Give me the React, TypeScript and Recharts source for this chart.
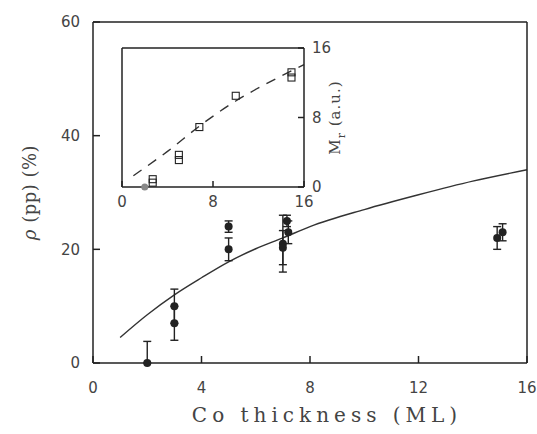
import React from 'react';
import { ComposedChart, Scatter, Line, XAxis, YAxis, ErrorBar, Label } from 'recharts';

// main panel: measured points
const mainX = [2, 3, 3, 5, 5, 7, 7, 7.15, 7.2, 14.9, 15.1];
const mainY = [0, 10, 7, 24, 20, 21, 20.3, 25, 23, 22, 23];
const mainErr: (number | number[])[] = [[0, 3.8], 3, 3, 1, 2, 5, 3, 1, 2, 2, 1.5];

// main panel: fitted curve
const fitX = [1, 2, 3, 4, 5, 6, 7, 8, 10, 12, 14, 16];
const fitY = [4.5, 8.5, 12, 15, 17.8, 20.1, 22, 24, 27, 29.6, 32, 34];

// inset: Mr squares
const insetX = [2.7, 2.7, 5, 5, 6.8, 10, 14.9, 14.9];
const insetY = [0.5, 0.9, 3.1, 3.7, 6.9, 10.5, 12.6, 13.2];
// inset: filled dot
const dotX = [2];
const dotY = [0];
// inset: dashed curve
const dashX = [1, 4, 7, 10, 13, 16];
const dashY = [1.3, 4.1, 7.2, 9.9, 12.1, 14.1];

const mainTicksX = [0, 4, 8, 12, 16];
const mainTicksY = [0, 20, 40, 60];
const insetTicks = [0, 8, 16];

const mainPts = mainX.map((x, i) => ({ x, y: mainY[i], err: mainErr[i] }));
const fitPts = fitX.map((x, i) => ({ x, y: fitY[i] }));
const insetPts = insetX.map((x, i) => ({ x, y: insetY[i] }));
const dotPts = dotX.map((x, i) => ({ x, y: dotY[i] }));
const dashPts = dashX.map((x, i) => ({ x, y: dashY[i] }));

const INK = '#222';
const TXT = '#444';
const tickStyle = { fontFamily: 'DejaVu Sans', fontSize: 15, fill: TXT };

const Square = (p: any) => (
  <rect x={p.cx - 3.5} y={p.cy - 3.5} width={7} height={7} fill="none" stroke={INK} strokeWidth={1.1} />
);
const Dot = (p: any) => <circle cx={p.cx} cy={p.cy} r={4} fill={INK} />;
const GrayDot = (p: any) => <circle cx={p.cx} cy={p.cy} r={3.5} fill="#888" />;

const XTitle = (props: any) => {
  const vb = props.viewBox || {};
  const cx = vb.x + vb.width / 2 + 17;
  return (
    <text
      x={cx}
      y={422}
      textAnchor="middle"
      fontFamily="DejaVu Serif"
      fontSize={20}
      fill={TXT}
      letterSpacing={5}
    >
      Co thickness (ML)
    </text>
  );
};

const RhoLabel = (props: any) => {
  const vb = props.viewBox || {};
  const cx = 30;
  const cy = vb.y + vb.height / 2;
  return (
    <text
      x={cx}
      y={cy}
      dy={6}
      transform={`rotate(-90 ${cx} ${cy})`}
      textAnchor="middle"
      fontFamily="DejaVu Serif"
      fontSize={18}
      fill={TXT}
      letterSpacing={0.5}
    >
      <tspan fontStyle="italic">ρ</tspan> (pp) (%)
    </text>
  );
};

const MrLabel = (props: any) => {
  const vb = props.viewBox || {};
  const cx = vb.x + vb.width - 30;
  const cy = vb.y + vb.height / 2;
  return (
    <text
      x={cx}
      y={cy}
      transform={`rotate(-90 ${cx} ${cy})`}
      textAnchor="middle"
      fontFamily="DejaVu Serif"
      fontSize={15}
      fill={TXT}
      letterSpacing={1}
    >
      M<tspan fontSize={11} dy={5}>r</tspan>
      <tspan dy={-5}> (a.u.)</tspan>
    </text>
  );
};

export default function App() {
  return (
    <div style={{ position: 'absolute', left: 0, top: 0, width: 537, height: 434, background: '#fff' }}>
      <div style={{ position: 'absolute', left: 0, top: 0 }}>
        <ComposedChart width={537} height={434} margin={{ top: 21, right: 9, bottom: 0, left: 0 }}>
          <XAxis
            xAxisId="b"
            type="number"
            dataKey="x"
            domain={[0, 16]}
            ticks={mainTicksX}
            height={71}
            stroke={INK}
            strokeWidth={1.5}
            tickSize={-7}
            tickMargin={26}
            tick={tickStyle}
          >
            <Label content={XTitle} />
          </XAxis>
          <XAxis
            xAxisId="t"
            orientation="top"
            type="number"
            dataKey="x"
            domain={[0, 16]}
            ticks={mainTicksX}
            height={1}
            stroke={INK}
            strokeWidth={1.5}
            tickSize={-7}
            tick={false}
          />
          <YAxis
            yAxisId="l"
            type="number"
            domain={[0, 60]}
            ticks={mainTicksY}
            width={93}
            stroke={INK}
            strokeWidth={1.5}
            tickSize={-7}
            tickMargin={20}
            tick={tickStyle}
          >
            <Label content={RhoLabel} />
          </YAxis>
          <YAxis
            yAxisId="r"
            orientation="right"
            type="number"
            domain={[0, 60]}
            ticks={mainTicksY}
            width={1}
            stroke={INK}
            strokeWidth={1.5}
            tickSize={-7}
            tick={false}
          />
          <Line
            xAxisId="b"
            yAxisId="l"
            data={fitPts}
            dataKey="y"
            type="monotone"
            stroke="#333"
            strokeWidth={1.4}
            dot={false}
            isAnimationActive={false}
          />
          <Scatter xAxisId="b" yAxisId="l" data={mainPts} dataKey="y" shape={Dot} isAnimationActive={false}>
            <ErrorBar dataKey="err" direction="y" width={4} stroke={INK} strokeWidth={1.4} />
          </Scatter>
        </ComposedChart>
      </div>
      <div style={{ position: 'absolute', left: 100, top: 30 }}>
        <ComposedChart width={270} height={185} margin={{ top: 17, right: 0, bottom: 0, left: 21 }}>
          <XAxis
            xAxisId="b"
            type="number"
            dataKey="x"
            domain={[0, 16]}
            ticks={insetTicks}
            height={28}
            stroke={INK}
            strokeWidth={1.5}
            tickSize={-6}
            tickMargin={15}
            tick={tickStyle}
          />
          <XAxis
            xAxisId="t"
            orientation="top"
            type="number"
            dataKey="x"
            domain={[0, 16]}
            ticks={insetTicks}
            height={1}
            stroke={INK}
            strokeWidth={1.5}
            tickSize={-6}
            tick={false}
          />
          <YAxis
            yAxisId="l"
            type="number"
            domain={[0, 16]}
            ticks={insetTicks}
            width={1}
            stroke={INK}
            strokeWidth={1.5}
            tickSize={-6}
            tick={false}
          />
          <YAxis
            yAxisId="r"
            orientation="right"
            type="number"
            domain={[0, 16]}
            ticks={insetTicks}
            width={66}
            stroke={INK}
            strokeWidth={1.5}
            tickSize={-6}
            tickMargin={14}
            tick={tickStyle}
          >
            <Label content={MrLabel} />
          </YAxis>
          <Line
            xAxisId="b"
            yAxisId="r"
            data={dashPts}
            dataKey="y"
            type="monotone"
            stroke="#333"
            strokeWidth={1.4}
            strokeDasharray="10 8"
            dot={false}
            isAnimationActive={false}
          />
          <Scatter xAxisId="b" yAxisId="r" data={insetPts} dataKey="y" shape={Square} isAnimationActive={false} />
          <Scatter xAxisId="b" yAxisId="r" data={dotPts} dataKey="y" shape={GrayDot} isAnimationActive={false} />
        </ComposedChart>
      </div>
    </div>
  );
}
